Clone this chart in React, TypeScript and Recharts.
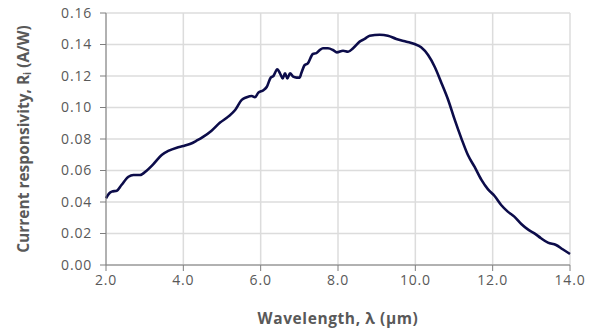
import React from 'react';
import { CartesianGrid, Label, Line, LineChart, XAxis, YAxis } from 'recharts';

// wavelength (µm) and current responsivity (A/W)
const wavelength = [
	2.0, 2.1, 2.15, 2.28, 2.4, 2.58, 2.71, 2.88, 3.05, 3.22, 3.44, 3.61, 3.83, 4.0, 4.17, 4.34, 4.52,
	4.73, 4.95, 5.16, 5.34, 5.51, 5.64, 5.77, 5.85, 5.94, 6.07, 6.16, 6.26, 6.33, 6.43, 6.5, 6.57,
	6.63, 6.69, 6.76, 6.84, 6.93, 7.01, 7.05, 7.14, 7.22, 7.35, 7.44, 7.53, 7.61, 7.74, 7.87, 7.97,
	8.13, 8.26, 8.39, 8.56, 8.69, 8.82, 9.08, 9.29, 9.51, 9.77, 9.98, 10.15, 10.33, 10.5, 10.68,
	10.85, 11.02, 11.19, 11.36, 11.53, 11.71, 11.88, 12.05, 12.22, 12.39, 12.56, 12.74, 12.91,
	13.08, 13.25, 13.43, 13.64, 13.81, 14.0,
];
const responsivity = [
	0.0424, 0.0459, 0.0466, 0.0472, 0.0508, 0.056, 0.0571, 0.0571, 0.0599, 0.0639, 0.0698, 0.0724,
	0.0745, 0.0755, 0.0768, 0.0789, 0.0815, 0.0853, 0.0904, 0.0942, 0.0984, 0.1048, 0.1065, 0.1073,
	0.1065, 0.1094, 0.111, 0.1132, 0.119, 0.12, 0.1242, 0.1217, 0.1185, 0.1217, 0.1185, 0.1217,
	0.1196, 0.119, 0.119, 0.1217, 0.127, 0.128, 0.134, 0.1345, 0.1365, 0.1376, 0.1376, 0.1365, 0.135,
	0.136, 0.1354, 0.1376, 0.1418, 0.1435, 0.1456, 0.1462, 0.1456, 0.1435, 0.1418, 0.1403, 0.1382,
	0.1333, 0.1259, 0.1153, 0.1048, 0.0921, 0.0804, 0.0698, 0.0624, 0.054, 0.048, 0.0438, 0.0381,
	0.0339, 0.0307, 0.026, 0.0226, 0.0201, 0.017, 0.0142, 0.0127, 0.01, 0.007,
];
const xTicks = [2, 4, 6, 8, 10, 12, 14];
const yTicks = [0, 0.02, 0.04, 0.06, 0.08, 0.1, 0.12, 0.14, 0.16];

const data = wavelength.map((w, i) => ({ w, r: responsivity[i] }));

const FONT = '"Open Sans", sans-serif';
const TEXT = '#595959';
const AXIS = '#7f7f7f';
const tickStyle = { fill: TEXT, fontSize: 14, fontFamily: FONT, letterSpacing: 0.8 };

function YTitle({ viewBox }: any) {
	const cx = viewBox.x + 23;
	const cy = viewBox.y + viewBox.height / 2;
	return (
		<text
			x={cx}
			y={cy}
			transform={`rotate(-90 ${cx} ${cy})`}
			textAnchor="middle"
			dominantBaseline="central"
			fontFamily={FONT}
			fontSize={15.5}
			fontWeight={700}
			fill={TEXT}
		>
			Current responsivity, R
			<tspan fontSize={10} dy={4}>
				i
			</tspan>
			<tspan dy={-4}> (A/W)</tspan>
		</text>
	);
}

function XTitle({ viewBox }: any) {
	return (
		<text
			x={viewBox.x + viewBox.width / 2}
			y={viewBox.y + 53}
			textAnchor="middle"
			dominantBaseline="central"
			fontFamily={FONT}
			fontSize={15.5}
			fontWeight={700}
			letterSpacing={0.6}
			fill={TEXT}
		>
			Wavelength, λ (µm)
		</text>
	);
}

export default function App() {
	return (
		<div style={{ position: 'absolute', left: 0, top: 0, background: '#fff' }}>
			<LineChart width={593} height={331} data={data} margin={{ top: 13, right: 23, left: 0, bottom: 0 }}>
				<CartesianGrid stroke="#dcdcdc" strokeWidth={1.5} />
				<XAxis
					dataKey="w"
					type="number"
					domain={[2, 14]}
					ticks={xTicks}
					tickFormatter={(v: number) => v.toFixed(1)}
					height={66}
					stroke={AXIS}
					tickSize={6}
					tickMargin={4}
					tick={tickStyle}
				>
					<Label content={<XTitle />} />
				</XAxis>
				<YAxis
					type="number"
					domain={[0, 0.16]}
					ticks={yTicks}
					tickFormatter={(v: number) => v.toFixed(2)}
					width={106}
					stroke={AXIS}
					tickSize={6}
					tickMargin={8}
					tick={tickStyle}
				>
					<Label content={<YTitle />} />
				</YAxis>
				<Line
					dataKey="r"
					type="monotone"
					stroke="#0c0c4a"
					strokeWidth={2.6}
					dot={false}
					isAnimationActive={false}
				/>
			</LineChart>
		</div>
	);
}
